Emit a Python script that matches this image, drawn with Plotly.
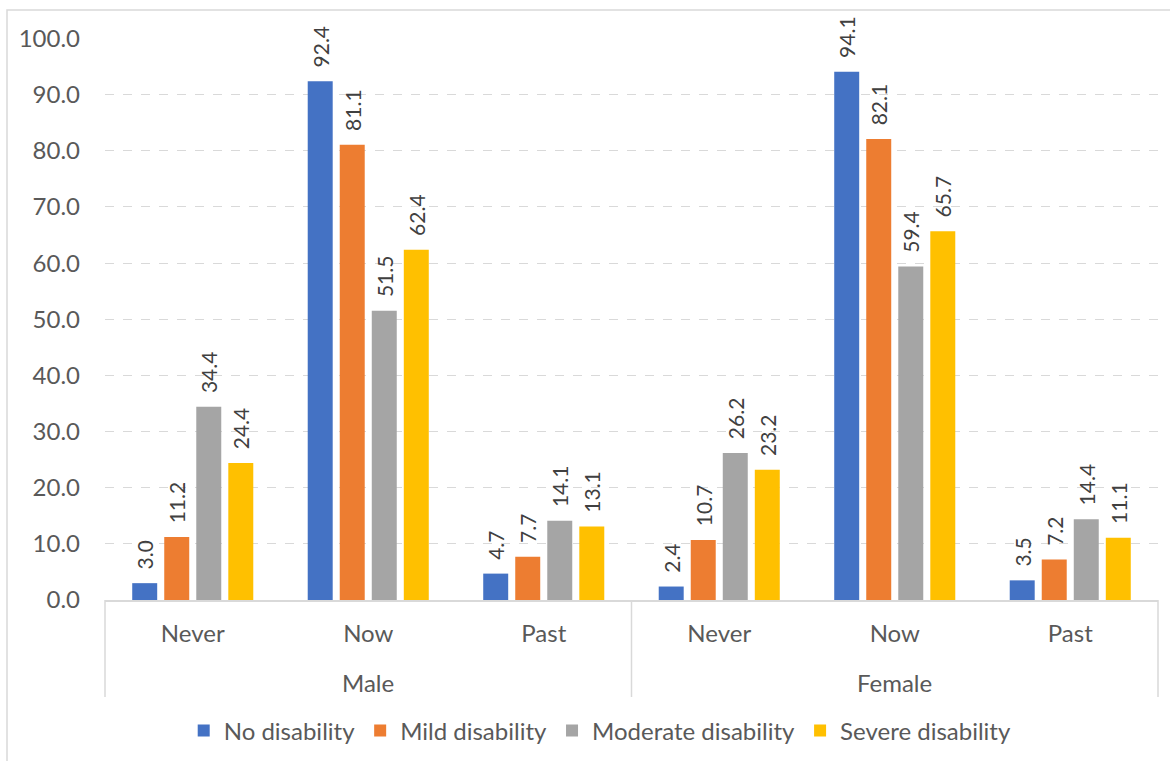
import plotly.graph_objects as go

# Smoking status by sex and disability level (%)
sexes = ["Male", "Male", "Male", "Female", "Female", "Female"]
status = ["Never", "Now", "Past", "Never", "Now", "Past"]
sex_groups = ["Male", "Female"]

series_names = ["No disability", "Mild disability", "Moderate disability", "Severe disability"]
no_disability = [3.0, 92.4, 4.7, 2.4, 94.1, 3.5]
mild_disability = [11.2, 81.1, 7.7, 10.7, 82.1, 7.2]
moderate_disability = [34.4, 51.5, 14.1, 26.2, 59.4, 14.4]
severe_disability = [24.4, 62.4, 13.1, 23.2, 65.7, 11.1]
y_ticks = [0, 10, 20, 30, 40, 50, 60, 70, 80, 90, 100]

colors = ["#4472C4", "#ED7D31", "#A5A5A5", "#FFC000"]
values = [no_disability, mild_disability, moderate_disability, severe_disability]

FONT = "Lato, Calibri, Carlito, sans-serif"
TXT = "#595959"
LINE = "#D9D9D9"
W, H = 1170, 761
L, R, T, B = 105, 12, 38, 161
plot_w = W - L - R
plot_h = H - T - B


def py(pixel_y):
    """Convert a page pixel row to paper y."""
    return (H - B - pixel_y) / plot_h


def px(pixel_x):
    """Convert a page pixel column to paper x."""
    return (pixel_x - L) / plot_w


keys = [f"{s} {st}" for s, st in zip(sexes, status)]

fig = go.Figure()
for name, vals, col in zip(series_names, values, colors):
    fig.add_trace(go.Bar(
        x=keys,
        y=vals,
        name=name,
        marker=dict(color=col, line=dict(width=0)),
        texttemplate="\u00a0\u00a0%{y:.1f}",
        textposition="outside",
        textangle=-90,
        constraintext="none",
        cliponaxis=False,
        textfont=dict(family=FONT, size=21, color="#404040"),
    ))

# outer chart border
fig.add_shape(
    type="rect", xref="paper", yref="paper", layer="below",
    x0=px(7), x1=1.2, y0=-0.5, y1=py(10),
    line=dict(color=LINE, width=1.5), fillcolor="rgba(0,0,0,0)",
)

# group dividers below the category axis
n_groups = len(sex_groups)
for i in range(n_groups + 1):
    xv = i / n_groups
    fig.add_shape(
        type="line", xref="paper", yref="paper",
        x0=xv, x1=xv, y0=0, y1=py(697),
        line=dict(color=LINE, width=1.5),
    )

# group labels
for i, g in enumerate(sex_groups):
    fig.add_annotation(
        text=g, xref="paper", yref="paper",
        x=(i + 0.5) / n_groups, y=py(682),
        xanchor="center", yanchor="middle", showarrow=False,
        font=dict(family=FONT, size=24, color=TXT),
    )

fig.update_layout(
    width=W, height=H,
    margin=dict(l=L, r=R, t=T, b=B, autoexpand=False),
    paper_bgcolor="white", plot_bgcolor="white",
    barmode="group", bargap=0.27, bargroupgap=0.22,
    font=dict(family=FONT, size=24, color=TXT),
    showlegend=True,
    legend=dict(
        orientation="h", xref="container", yref="container",
        x=0.513, y=1 - 731 / H, xanchor="center", yanchor="middle",
        font=dict(family=FONT, size=24, color=TXT),
        itemwidth=30, tracegroupgap=0,
    ),
)
fig.update_xaxes(
    type="category",
    tickvals=keys, ticktext=status,
    showline=True, linecolor=LINE, linewidth=1.5,
    tickfont=dict(family=FONT, size=24, color=TXT),
    ticklabelstandoff=11,
    showgrid=False, ticks="",
)
fig.update_yaxes(
    range=[0, 100.1],
    tickvals=y_ticks, tickformat=".1f",
    showgrid=True, gridcolor=LINE, griddash="dash", gridwidth=1.2,
    zeroline=False, showline=False, ticks="",
    ticklabelstandoff=24,
    tickfont=dict(family=FONT, size=24, color=TXT),
)

fig.write_html("out.html")
